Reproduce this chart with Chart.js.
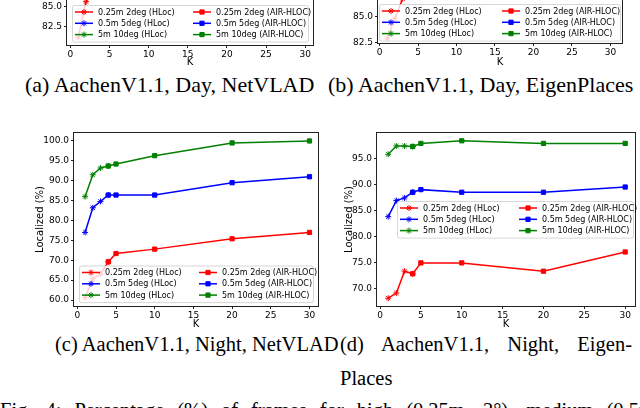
<!DOCTYPE html>
<html>
<head>
<meta charset="utf-8">
<script src="https://cdn.jsdelivr.net/npm/chart.js@4.4.1/dist/chart.umd.min.js"></script>
<style>
  body { margin:0; width:640px; height:408px; overflow:hidden; background:#fff; position:relative; }
  canvas { position:absolute; }
  .cap { position:absolute; font-family:'Liberation Serif','DejaVu Serif',serif; font-size:20.5px; line-height:21px; color:#000; white-space:nowrap; }
  .top { font-size:22px; }
</style>
</head>
<body>
<canvas id="chartA"></canvas>
<canvas id="chartB"></canvas>
<canvas id="chartC"></canvas>
<canvas id="chartD"></canvas>

<div class="cap top" style="left:25px;top:74px">(a) AachenV1.1, Day, NetVLAD</div>
<div class="cap top" style="left:328px;top:74px">(b) AachenV1.1, Day, EigenPlaces</div>
<div class="cap" style="left:55px;top:334px">(c) AachenV1.1, Night, NetVLAD</div>
<div class="cap" style="left:340px;top:334px;width:292px;text-align:justify;text-align-last:justify;white-space:normal;">(d) AachenV1.1, Night, Eigen-</div>
<div class="cap" style="left:340px;top:368px">Places</div>
<div class="cap" style="left:0px;top:400px;width:660px;text-align:justify;text-align-last:justify;white-space:normal;">Fig. 4: Percentage (%) of frames for high (0.25m, 2°), medium (0.5m,</div>

<script>
// x values (K) shared by all four panels
const K = [1, 2, 3, 4, 5, 10, 20, 30];
// first 4 K belong to the HLoc curve, from K=4 on the AIR-HLOC curve
const hlocCount = 4;

// (a) Day, NetVLAD  (mostly cut off at the top)
const dayNetHigh   = [81.2, 85.6, 87.0, 87.6, 88.0, 88.8, 89.2, 89.4];
const dayNetMed    = [89.7, 93.8, 94.7, 95.3, 95.6, 96.1, 96.5, 96.6];
const dayNetCoarse = [94.4, 98.3, 99.0, 99.4, 99.6, 99.8, 99.9, 100.0];

// (b) Day, EigenPlaces
const dayEigHigh   = [82.9, 84.8, 86.7, 87.5, 88.0, 88.7, 89.0, 89.2];
const dayEigMed    = [91.0, 93.9, 94.8, 95.2, 95.5, 96.0, 96.2, 96.4];
const dayEigCoarse = [96.6, 98.7, 99.2, 99.4, 99.5, 99.6, 99.6, 99.6];

// (c) Night, NetVLAD
const nightNetHigh   = [60.6, 65.3, 66.6, 69.6, 71.7, 72.8, 75.4, 77.0];
const nightNetMed    = [77.0, 83.2, 84.8, 86.4, 86.4, 86.4, 89.5, 91.0];
const nightNetCoarse = [86.0, 91.5, 93.2, 93.7, 94.2, 96.3, 99.5, 100.0];

// (d) Night, EigenPlaces
const nightEigHigh   = [68.1, 69.1, 73.3, 72.8, 74.9, 74.9, 73.3, 77.0];
const nightEigMed    = [83.8, 86.9, 87.4, 88.5, 89.0, 88.5, 88.5, 89.5];
const nightEigCoarse = [95.8, 97.4, 97.4, 97.3, 97.9, 98.4, 97.9, 97.9];

const seriesNames  = ['0.25m 2deg', '0.5m 5deg', '5m 10deg'];
const seriesColors = ['#ff0000', '#0000ff', '#008000'];

const xTicks  = [0, 5, 10, 15, 20, 25, 30];
const yTicksA = [82.5, 85.0, 87.5, 90.0, 92.5, 95.0, 97.5, 100.0];
const yTicksB = [82.5, 85.0, 87.5, 90.0, 92.5, 95.0, 97.5, 100.0];
const yTicksC = [60, 65, 70, 75, 80, 85, 90, 95, 100];
const yTicksD = [70, 75, 80, 85, 90, 95];

Chart.defaults.font.family = "'DejaVu Sans', sans-serif";
Chart.defaults.color = '#000';

// frame around the axes + matplotlib style legend (2 columns, semi transparent box)
const boxAndLegend = {
  id: 'boxAndLegend',
  afterDatasetsDraw(chart, args, opts) {
    const ctx = chart.ctx, a = chart.chartArea;
    ctx.save();
    ctx.strokeStyle = '#222';
    ctx.lineWidth = 1;
    ctx.strokeRect(Math.round(a.left) - 0.5, Math.round(a.top) - 0.5,
                   Math.round(a.right - a.left) + 1, Math.round(a.bottom - a.top) + 1);

    const lg = opts.legend;
    const bx = lg.x - opts.origin[0], by = lg.y - opts.origin[1];
    const rowH = 11.3, h = 7 + 2 * rowH + 7;
    ctx.beginPath();
    ctx.roundRect(bx + 0.5, by + 0.5, lg.w, h, 2);
    ctx.fillStyle = 'rgba(255,255,255,0.8)';
    ctx.fill();
    ctx.strokeStyle = 'rgba(204,204,204,0.8)';
    ctx.stroke();

    ctx.font = "8px 'DejaVu Sans'";
    ctx.textBaseline = 'middle';
    chart.data.datasets.forEach((ds, i) => {
      const col = i < 3 ? 0 : 1, row = i % 3;
      const x0 = bx + 3 + col * lg.col2;
      const y0 = by + 7 + row * rowH;
      ctx.strokeStyle = ds.borderColor;
      ctx.fillStyle = ds.borderColor;
      ctx.lineWidth = 1.5;
      ctx.beginPath();
      ctx.moveTo(x0, y0);
      ctx.lineTo(x0 + 18, y0);
      ctx.stroke();
      ctx.lineWidth = 1;
      Chart.helpers.drawPoint(ctx, { pointStyle: ds.pointStyle, radius: ds.pointRadius, rotation: 0, borderWidth: 1 }, x0 + 9, y0);
      ctx.fillStyle = '#000';
      ctx.fillText(ds.label, x0 + 23, y0 + 0.5);
    });
    ctx.restore();
  }
};

function buildDatasets(high, med, coarse) {
  const out = [];
  [high, med, coarse].forEach((vals, i) => {
    out.push({
      label: seriesNames[i] + ' (HLoc)',
      data: K.slice(0, hlocCount).map((k, j) => ({ x: k, y: vals[j] })),
      borderColor: seriesColors[i], backgroundColor: seriesColors[i],
      borderWidth: 1.5, pointStyle: 'star', pointRadius: 3, pointBorderWidth: 1
    });
  });
  [high, med, coarse].forEach((vals, i) => {
    out.push({
      label: seriesNames[i] + ' (AIR-HLOC)',
      data: K.slice(hlocCount - 1).map((k, j) => ({ x: k, y: vals[j + hlocCount - 1] })),
      borderColor: seriesColors[i], backgroundColor: seriesColors[i],
      borderWidth: 1.5, pointStyle: 'rect', pointRadius: 3, pointBorderWidth: 1
    });
  });
  return out;
}

// g: plot area in page px (L,T,R,B), y title centre x, K label centre y
function makeChart(id, g, xr, yr, yTicks, datasets, legend) {
  const cl = g.titleX - 6, ct = g.T - 15, cr = g.R + 8, cb = g.kY + 6;
  const cv = document.getElementById(id);
  cv.width = cr - cl; cv.height = cb - ct;
  cv.style.left = cl + 'px'; cv.style.top = ct + 'px';
  const yW = g.L - cl, xH = cb - g.B;
  new Chart(cv, {
    type: 'line',
    data: { datasets },
    options: {
      responsive: false, animation: false,
      layout: { padding: { top: 15, right: 8, left: 0, bottom: 0 } },
      plugins: { legend: { display: false }, tooltip: { enabled: false },
                 boxAndLegend: { legend, origin: [cl, ct] } },
      scales: {
        x: {
          type: 'linear', min: xr[0], max: xr[1],
          afterBuildTicks: s => { s.ticks = xTicks.map(v => ({ value: v })); },
          afterFit: s => { s.height = xH; },
          ticks: { font: { size: 9 }, padding: 1, maxRotation: 0, autoSkip: false, callback: v => v },
          grid: { drawOnChartArea: false, tickLength: 3, color: '#222' },
          border: { display: false },
          title: { display: true, text: 'K', font: { size: 10 }, padding: 0 }
        },
        y: {
          type: 'linear', min: yr[0], max: yr[1],
          afterBuildTicks: s => { s.ticks = yTicks.map(v => ({ value: v })); },
          afterFit: s => { s.width = yW; },
          ticks: { font: { size: 9 }, padding: 2, autoSkip: false, callback: v => v.toFixed(1) },
          grid: { drawOnChartArea: false, tickLength: 3, color: '#222' },
          border: { display: false },
          title: { display: true, text: 'Localized (%)', font: { size: 10 }, padding: 0 }
        }
      }
    },
    plugins: [boxAndLegend]
  });
}

makeChart('chartA', { L: 67, T: -123, R: 313, B: 45, titleX: 30, kY: 62 },
  [-0.43, 31.0], [80.26, 100.94], yTicksA,
  buildDatasets(dayNetHigh, dayNetMed, dayNetCoarse), { x: 72, y: 5, w: 236, col2: 118 });

makeChart('chartB', { L: 378, T: -145, R: 622, B: 43, titleX: 345, kY: 62 },
  [-0.2, 31.5], [82.45, 100.5], yTicksB,
  buildDatasets(dayEigHigh, dayEigMed, dayEigCoarse), { x: 379, y: 4, w: 241, col2: 120 });

makeChart('chartC', { L: 74, T: 133, R: 318, B: 306, titleX: 40, kY: 324 },
  [-0.43, 31.1], [58.5, 102.0], yTicksC,
  buildDatasets(nightNetHigh, nightNetMed, nightNetCoarse), { x: 79, y: 265.5, w: 234, col2: 117 });

makeChart('chartD', { L: 377, T: 133, R: 635, B: 306, titleX: 349, kY: 324 },
  [-0.37, 31.2], [66.6, 99.9], yTicksD,
  buildDatasets(nightEigHigh, nightEigMed, nightEigCoarse), { x: 397, y: 201, w: 236, col2: 119 });
</script>
</body>
</html>
